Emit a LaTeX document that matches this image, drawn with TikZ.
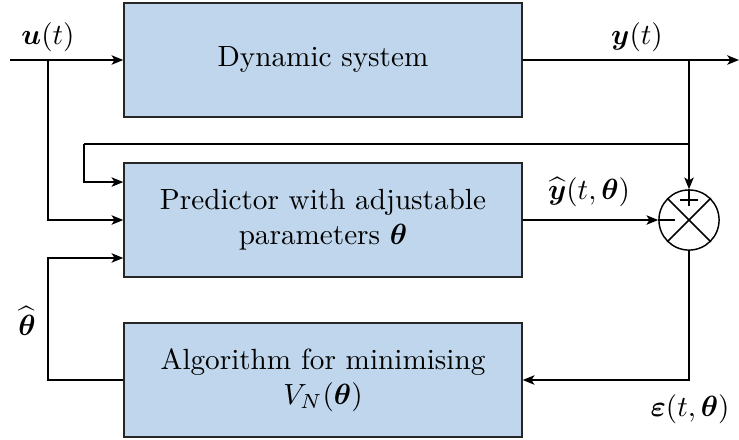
\documentclass[tikz,border=0pt]{standalone}
\usepackage{amsmath,amssymb}
\usetikzlibrary{arrows.meta}
\definecolor{boxblue}{RGB}{191,214,236}
\begin{document}
\begin{tikzpicture}[x=0.3425pt,y=-0.3425pt,
  block/.style={draw=black!85,line width=0.5pt,fill=boxblue,
    minimum width=136.3pt,minimum height=39pt,inner sep=2pt,
    align=center,font=\normalsize},
  sig/.style={line width=0.65pt},
  tip/.style={sig,-{Stealth[length=4pt,width=3.2pt,inset=1pt]}},
  lbl/.style={inner sep=0pt}]
\useasboundingbox (0,0) rectangle (739,439);

% blocks
\node[block] (sys)  at (323,60)  {Dynamic system};
\node[block] (pred) at (323,220) {Predictor with adjustable\\ parameters $\boldsymbol{\theta}$};
\node[block] (alg)  at (323,380) {Algorithm for minimising\\ $V_N(\boldsymbol{\theta})$};

% comparator
\node[circle,draw,line width=0.5pt,minimum size=20.6pt,inner sep=0pt] (sum) at (689,220) {};
\draw[line width=0.5pt] (sum.north west) -- (sum.south east)
                        (sum.north east) -- (sum.south west);
\draw[line width=0.5pt] (sum.north) -- ++(0,17) (680,200) -- (698,200);
\draw[line width=0.5pt] (sum.west) -- ++(17,0);

% junctions and free ends
\coordinate (uin)  at (10,60);
\coordinate (ubr)  at (48,60);
\coordinate (yout) at (739,60);
\coordinate (ybr)  at (689,60);
\coordinate (loop) at (84,144);
\coordinate (pin1) at ([yshift=13pt]pred.west);
\coordinate (pin3) at ([yshift=-13pt]pred.west);

% input
\draw[tip] (uin) -- (sys.west);
\draw[tip] (ubr) |- (pred.west);

% output
\draw[tip] (sys.east) -- (yout);
\draw[tip] (ybr) -- (sum.north);
\draw[sig] (ybr |- loop) -- (loop);
\draw[tip] (loop) |- (pin1);

% prediction and error
\draw[tip] (pred.east) -- (sum.west);
\draw[tip] (sum.south) |- (alg.east);

% parameter estimate
\draw[tip] (alg.west) -- (ubr |- alg.west) |- (pin3);

% labels
\node[lbl] at (48,37)  {$\boldsymbol{u}(t)$};
\node[lbl] at (637,37) {$\boldsymbol{y}(t)$};
\node[lbl] at (589,192) {$\widehat{\boldsymbol{y}}(t,\boldsymbol{\theta})$};
\node[lbl] at (27,321) {$\widehat{\boldsymbol{\theta}}$};
\node[lbl] at (690,409) {$\boldsymbol{\varepsilon}(t,\boldsymbol{\theta})$};
\end{tikzpicture}
\end{document}
